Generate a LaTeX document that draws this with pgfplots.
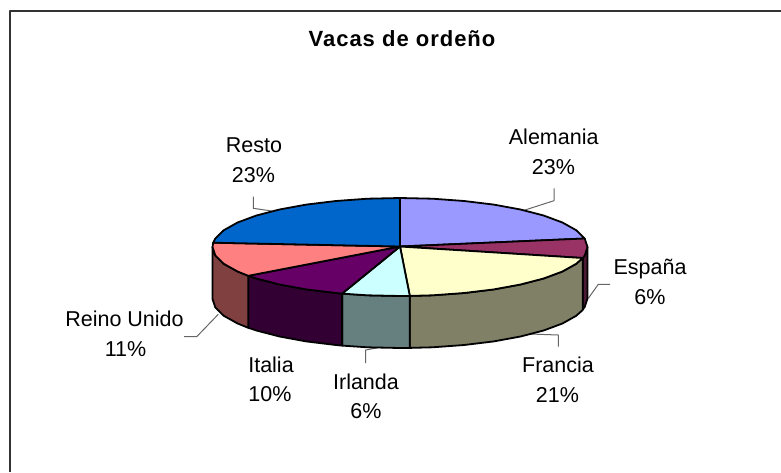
\documentclass[border=0pt]{standalone}
\usepackage{pgfplots}
\pgfplotsset{compat=1.18}
\usepackage{fontspec}
\setmainfont{Liberation Sans}
\newfontfamily\titlefont[LetterSpace=4.5]{Liberation Sans}
\definecolor{frameline}{HTML}{333333}
\definecolor{leader}{HTML}{666666}
\definecolor{cAle}{HTML}{9999FF}
\definecolor{cEsp}{HTML}{993366}
\definecolor{cEspW}{HTML}{4D1A33}
\definecolor{cFra}{HTML}{FFFFCC}
\definecolor{cFraW}{HTML}{808066}
\definecolor{cIrl}{HTML}{CCFFFF}
\definecolor{cIrlW}{HTML}{668080}
\definecolor{cIta}{HTML}{660066}
\definecolor{cItaW}{HTML}{330033}
\definecolor{cRei}{HTML}{FF8080}
\definecolor{cReiW}{HTML}{804040}
\definecolor{cRes}{HTML}{0066CC}
\begin{document}
\begin{tikzpicture}[font=\fontsize{21.5}{25}\selectfont]
\begin{axis}[
  hide axis, scale only axis, width=781pt, height=472pt,
  xmin=0, xmax=781, ymin=0, ymax=472, y dir=reverse,
  every axis plot/.append style={line join=round},
  slice/.style={draw=black, line width=1.8pt, mark=none},
  lead/.style={draw=leader, line width=1pt, mark=none}
]
\path (axis cs:0,0) rectangle (axis cs:781,472);
% frame
\addplot[draw=frameline, line width=2pt, mark=none] coordinates {(9.5,472) (9.5,10.5) (781,10.5)};
% leader lines
\addplot[lead] coordinates {(253.3,196.7) (253.3,208.3) (271.7,211)};
\addplot[lead] coordinates {(554,188.3) (554,200.7) (525,210)};
\addplot[lead] coordinates {(610,284.3) (598.3,284.3) (588.3,298.3)};
\addplot[lead] coordinates {(558.3,346.7) (558.3,335) (530,334)};
\addplot[lead] coordinates {(365.7,363) (365.7,350) (378,347.7)};
\addplot[lead] coordinates {(184,336.7) (196.7,336.7) (218.3,314.3)};
% walls
\addplot[slice, fill=cEspW] coordinates {(587.5,247) (584.7,255.5) (582.7,258) (582.7,309.5) (584.7,307) (587.5,298.5)} --cycle;
\addplot[slice, fill=cFraW] coordinates {(582.7,258) (576.2,263.8) (562.4,271.5) (543.6,278.5) (520.5,284.5) (493.8,289.4) (464.1,293) (432.6,295.3) (409.8,295.9)
 (409.8,347.9) (432.6,347.3) (464.1,345) (493.8,341.4) (520.5,336.5) (543.6,330.5) (562.4,323.5) (576.2,315.8) (582.7,310)} --cycle;
\addplot[slice, fill=cIrlW] coordinates {(409.8,295.9) (400,296) (367.4,295.3) (342.1,293.6) (342.1,345.6) (367.4,347.3) (400,348) (409.8,347.9)} --cycle;
\addplot[slice, fill=cItaW] coordinates {(342.1,293.6) (335.9,293) (306.2,289.4) (279.5,284.5) (256.4,278.5) (248.3,275.8) (248.3,327.8) (256.4,330.5) (279.5,336.5) (306.2,341.4) (335.9,345) (342.1,345.6)} --cycle;
\addplot[slice, fill=cReiW] coordinates {(248.3,275.8) (237.6,271.5) (223.8,263.8) (215.3,255.5) (212.5,247) (212.5,299) (215.3,307.5) (223.8,315.8) (237.6,323.5) (248.3,327.8)} --cycle;
% tops
\addplot[slice, fill=cAle] coordinates {(400,246.5) (400,198) (432.6,198.7) (464.1,201) (493.8,204.6) (520.5,209.5) (543.6,215.5) (562.4,222.5) (576.2,230.2) (584.7,238.5)} --cycle;
\addplot[slice, fill=cEsp] coordinates {(400,246.5) (584.7,238.5) (587.5,247) (584.7,255.5) (582.7,258)} --cycle;
\addplot[slice, fill=cFra] coordinates {(400,246.5) (582.7,258) (576.2,263.8) (562.4,271.5) (543.6,278.5) (520.5,284.5) (493.8,289.4) (464.1,293) (432.6,295.3) (409.8,295.9)} --cycle;
\addplot[slice, fill=cIrl] coordinates {(400,246.5) (409.8,295.9) (400,296) (367.4,295.3) (342.1,293.6)} --cycle;
\addplot[slice, fill=cIta] coordinates {(400,246.5) (342.1,293.6) (335.9,293) (306.2,289.4) (279.5,284.5) (256.4,278.5) (248.3,275.8)} --cycle;
\addplot[slice, fill=cRei] coordinates {(400,246.5) (248.3,275.8) (237.6,271.5) (223.8,263.8) (215.3,255.5) (212.5,247) (213.2,242.7)} --cycle;
\addplot[slice, fill=cRes] coordinates {(400,246.5) (213.2,242.7) (215.3,238.5) (223.8,230.2) (237.6,222.5) (256.4,215.5) (279.5,209.5) (306.2,204.6) (335.9,201) (367.4,198.7) (400,198)} --cycle;
% labels
\node[anchor=base, inner sep=0pt] at (axis cs:402,46.7) {\titlefont\fontsize{22}{25}\selectfont\bfseries Vacas de ordeño};
\node[anchor=base, inner sep=0pt] at (axis cs:553.7,144) {Alemania};
\node[anchor=base, inner sep=0pt] at (axis cs:553.5,174.3) {23\%};
\node[anchor=base, inner sep=0pt] at (axis cs:254,152.3) {Resto};
\node[anchor=base, inner sep=0pt] at (axis cs:253.5,182.7) {23\%};
\node[anchor=base, inner sep=0pt] at (axis cs:650,274) {España};
\node[anchor=base, inner sep=0pt] at (axis cs:650,304) {6\%};
\node[anchor=base, inner sep=0pt] at (axis cs:558,372.7) {Francia};
\node[anchor=base, inner sep=0pt] at (axis cs:557.5,402.3) {21\%};
\node[anchor=base, inner sep=0pt] at (axis cs:366,389.3) {Irlanda};
\node[anchor=base, inner sep=0pt] at (axis cs:366,418.3) {6\%};
\node[anchor=base, inner sep=0pt] at (axis cs:271,372.7) {Italia};
\node[anchor=base, inner sep=0pt] at (axis cs:270,401.7) {10\%};
\node[anchor=base, inner sep=0pt] at (axis cs:124.5,326) {Reino Unido};
\node[anchor=base, inner sep=0pt] at (axis cs:125.5,356) {11\%};
\end{axis}
\end{tikzpicture}
\end{document}
